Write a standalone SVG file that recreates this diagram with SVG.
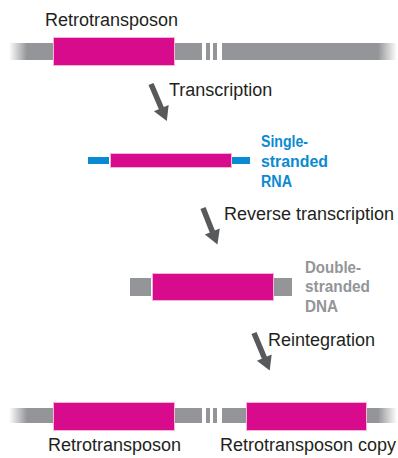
<svg xmlns="http://www.w3.org/2000/svg" width="398" height="458" viewBox="0 0 398 458">
<style>
.lbl{font-family:"Liberation Sans",Arial,sans-serif;font-size:18px;fill:#231f20}
.side{font-family:"Liberation Sans",Arial,sans-serif;font-size:16px;font-weight:bold}
.pink{fill:#d80b8c;stroke:#f6b3d6;stroke-width:1}
.gray{fill:#939598}
.blue{fill:#0a8ad2}
.arrow{stroke:#58595b;stroke-width:5.5;fill:none}
</style>
<defs>
<linearGradient id="fadeL" gradientUnits="userSpaceOnUse" x1="9" y1="0" x2="27" y2="0">
<stop offset="0" stop-color="#939598" stop-opacity="0"/>
<stop offset="1" stop-color="#939598" stop-opacity="1"/>
</linearGradient>
<linearGradient id="fadeR" gradientUnits="userSpaceOnUse" x1="378" y1="0" x2="397" y2="0">
<stop offset="0" stop-color="#939598" stop-opacity="1"/>
<stop offset="1" stop-color="#939598" stop-opacity="0"/>
</linearGradient>
<marker id="head" markerUnits="userSpaceOnUse" markerWidth="16" markerHeight="18" viewBox="0 -9 14 18" refX="0.5" refY="0" orient="auto">
<path d="M0,-8 L14,0 L0,8 Z" fill="#58595b"/>
</marker>
</defs>

<g id="genome-top">
<text class="lbl" x="45" y="26">Retrotransposon</text>
<rect x="9" y="43" width="193" height="17" fill="url(#fadeL)"/>
<rect class="gray" x="206" y="43" width="4" height="17"/>
<rect class="gray" x="213" y="43" width="4" height="17"/>
<rect x="222" y="43" width="175" height="17" fill="url(#fadeR)"/>
<rect class="pink" x="53.5" y="37.5" width="121" height="28"/>
</g>

<g id="rna">
<rect class="blue" x="88" y="157" width="21" height="7"/>
<rect class="blue" x="232" y="157" width="18" height="7"/>
<rect class="pink" x="110.5" y="153.5" width="121" height="14"/>
<text class="side" fill="#0a8ad2"><tspan x="261" y="147" textLength="47" lengthAdjust="spacingAndGlyphs">Single-</tspan><tspan x="261" y="167" textLength="67" lengthAdjust="spacingAndGlyphs">stranded</tspan><tspan x="261" y="187" textLength="31" lengthAdjust="spacingAndGlyphs">RNA</tspan></text>
</g>

<g id="dna">
<rect class="gray" x="130" y="278" width="21" height="18"/>
<rect class="gray" x="274" y="278" width="18" height="18"/>
<rect class="pink" x="152.5" y="273.5" width="121" height="27"/>
<text class="side" fill="#939598"><tspan x="305" y="273" textLength="56" lengthAdjust="spacingAndGlyphs">Double-</tspan><tspan x="305" y="292" textLength="65" lengthAdjust="spacingAndGlyphs">stranded</tspan><tspan x="305" y="312" textLength="33" lengthAdjust="spacingAndGlyphs">DNA</tspan></text>
</g>

<g id="genome-bottom">
<rect x="9" y="408" width="193" height="15" fill="url(#fadeL)"/>
<rect class="gray" x="206" y="408" width="4" height="15"/>
<rect class="gray" x="213" y="408" width="4" height="15"/>
<rect x="222" y="408" width="175" height="15" fill="url(#fadeR)"/>
<rect class="pink" x="53.5" y="402.5" width="121" height="28"/>
<rect class="pink" x="246.5" y="402.5" width="120" height="28"/>
<text class="lbl" x="48" y="451">Retrotransposon</text>
<text class="lbl" x="220" y="451">Retrotransposon copy</text>
</g>

<g id="connectors">
<path class="arrow" d="M151,84 L161.5,108.5" marker-end="url(#head)"/>
<path class="arrow" d="M203,208 L212.5,232" marker-end="url(#head)"/>
<path class="arrow" d="M254,333 L264.5,358" marker-end="url(#head)"/>
<text class="lbl" x="169" y="96">Transcription</text>
<text class="lbl" x="224" y="220">Reverse transcription</text>
<text class="lbl" x="268" y="346">Reintegration</text>
</g>
</svg>
